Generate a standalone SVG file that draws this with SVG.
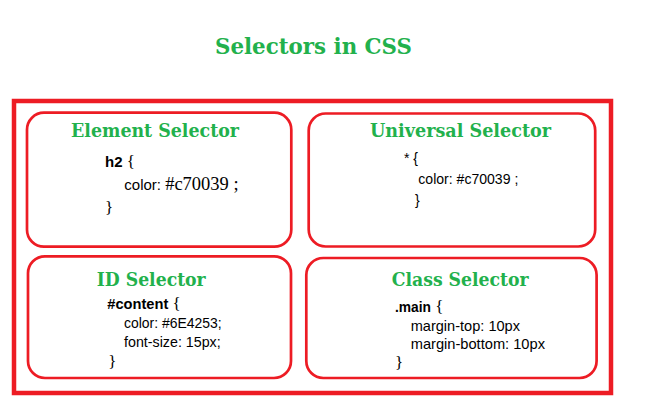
<svg xmlns="http://www.w3.org/2000/svg" width="648" height="413" viewBox="0 0 648 413">
<style>
.title{font-family:"DejaVu Serif","Liberation Serif",serif;font-weight:bold;fill:#22b14c}
.box{fill:none;stroke:#ed1c24;stroke-width:2.7}
.code{font-family:"Liberation Sans",Arial,sans-serif;font-size:15px;fill:#000}
.sm{font-size:14px}
.b{font-weight:bold}
.br{font-family:"Liberation Serif",serif;font-size:17px}
.hex{font-family:"Liberation Serif",serif;font-size:18.5px}
</style>
<rect width="648" height="413" fill="#fff"/>
<text class="title" x="215" y="54" font-size="22.5" textLength="197" lengthAdjust="spacingAndGlyphs">Selectors in CSS</text>
<rect x="14" y="101" width="597" height="292" fill="none" stroke="#ed1c24" stroke-width="4.5"/>
<g id="element">
<rect class="box" x="27" y="112.7" width="264.3" height="134" rx="17"/>
<text class="title" x="71" y="136.7" font-size="18.5" textLength="168" lengthAdjust="spacingAndGlyphs">Element Selector</text>
<text class="code" x="105" y="166.7"><tspan class="b">h2</tspan> <tspan class="br">{</tspan></text>
<text class="code" x="124.3" y="190">color: <tspan class="hex">#c70039 ;</tspan></text>
<text class="code br" x="105" y="213">}</text>
</g>
<g id="universal">
<rect class="box" x="308.7" y="113.5" width="286.5" height="133" rx="17"/>
<text class="title" x="370" y="136.7" font-size="18.5" textLength="181" lengthAdjust="spacingAndGlyphs">Universal Selector</text>
<text class="code sm" x="404" y="162.7">* {</text>
<text class="code sm" x="418.3" y="184" textLength="100" lengthAdjust="spacingAndGlyphs">color: #c70039 ;</text>
<text class="code sm" x="415" y="205">}</text>
</g>
<g id="id">
<rect class="box" x="28" y="256.3" width="263" height="121.7" rx="17"/>
<text class="title" x="96.7" y="285.7" font-size="18.5" textLength="109" lengthAdjust="spacingAndGlyphs">ID Selector</text>
<text class="code" x="107.3" y="309.3"><tspan class="b" textLength="61" lengthAdjust="spacingAndGlyphs">#content</tspan> <tspan class="br">{</tspan></text>
<text class="code" x="124" y="328.3" textLength="97.7" lengthAdjust="spacingAndGlyphs">color: #6E4253;</text>
<text class="code" x="124" y="347.3" textLength="96.7" lengthAdjust="spacingAndGlyphs">font-size: 15px;</text>
<text class="code br" x="108.3" y="366.7">}</text>
</g>
<g id="class">
<rect class="box" x="306.3" y="258" width="290.3" height="120" rx="17"/>
<text class="title" x="391.7" y="285.7" font-size="18.5" textLength="137" lengthAdjust="spacingAndGlyphs">Class Selector</text>
<text class="code" x="395" y="311.7"><tspan class="b" textLength="36" lengthAdjust="spacingAndGlyphs">.main</tspan> <tspan class="br">{</tspan></text>
<text class="code" x="410.7" y="330.7" textLength="109.3" lengthAdjust="spacingAndGlyphs">margin-top: 10px</text>
<text class="code" x="410.7" y="349.3" textLength="134.3" lengthAdjust="spacingAndGlyphs">margin-bottom: 10px</text>
<text class="code br" x="395" y="368">}</text>
</g>
<g id="connectors"></g>
</svg>
